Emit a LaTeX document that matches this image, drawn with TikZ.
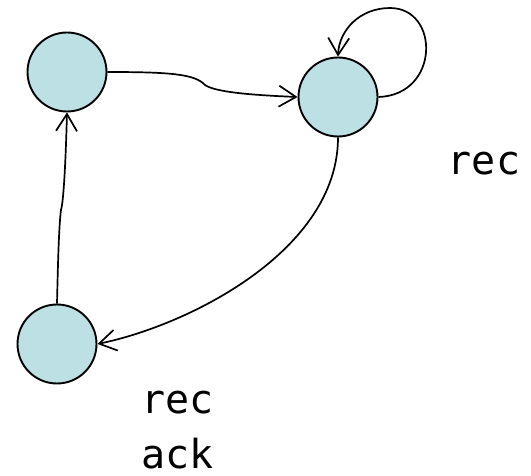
\documentclass[tikz,border=0pt]{standalone}
\usepackage{fontspec}
\setmonofont{DejaVu Sans Mono}
\usetikzlibrary{arrows.meta}

\definecolor{statefill}{RGB}{188,224,228}

\tikzset{
	state/.style={circle,draw,line width=1.9pt,fill=statefill,minimum size=79pt,inner sep=0pt},
	trans/.style={line width=1.7pt,-{Straight Barb[length=17pt,width=21pt,line width=1.7pt]}},
	lbl/.style={font=\fontsize{40}{55}\selectfont\ttfamily,inner sep=0pt,text depth=0pt}
}

\begin{document}
\begin{tikzpicture}[x=1pt,y=-1pt]
		%\draw[blue] (0,0) grid[step=50] (531,476);
		\useasboundingbox (0,0) rectangle (531,476);

		\node[state] (s1) at (67,72) {};
		\node[state] (s2) at (338,97) {};
		\node[state] (s3) at (57,344) {};

		\coordinate (k1) at (205,85);
		\coordinate (k2) at (61,210);
		\coordinate (looptop) at (390,8);

		\draw[trans] (s1.east) .. controls (170,72) and (195,74) .. (k1)
			.. controls (215,92) and (250,95) .. (s2.west);
		\draw[trans] (s2.east) .. controls (440,95) and (440,8) .. (looptop)
			.. controls (360,8) and (339,30) .. (s2.north);
		\draw[trans] (s2.south) .. controls (338,250) and (190,325) .. (s3.east);
		\draw[trans] (s3.north) .. controls (58,260) and (59,225) .. (k2)
			.. controls (64,200) and (66,150) .. (s1.south);

		\node[lbl,anchor=base] (rec1) at (484,175) {rec};
		\node[lbl,anchor=base west] (rec2) at (141,413) {rec};
		\node[lbl,anchor=base west] (ack) at (141,468) {ack};
	\end{tikzpicture}
\end{document}
